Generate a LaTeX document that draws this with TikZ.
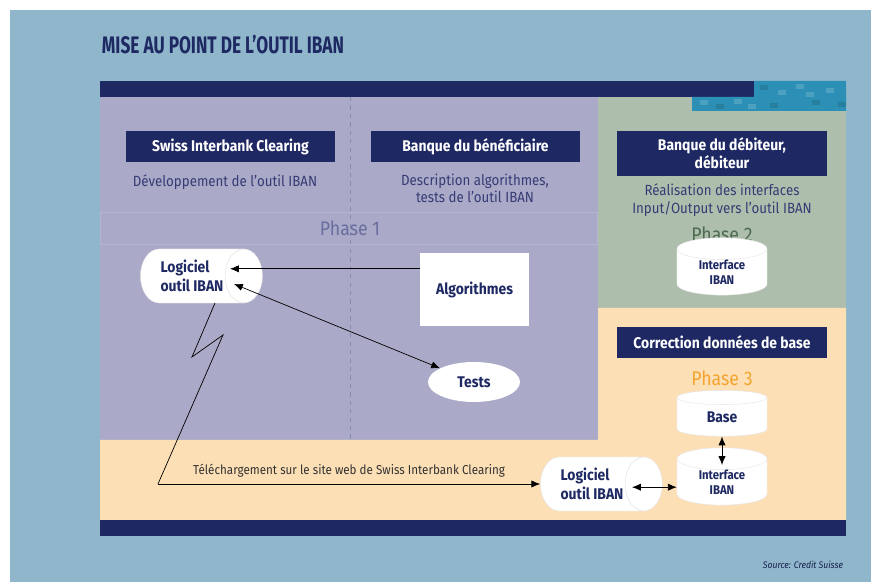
\documentclass[tikz,border=0pt]{standalone}
\usepackage{fontspec}
\setmainfont{Fira Sans}[FakeStretch=0.9]
\newfontfamily\titlefont{Fira Sans}[FakeStretch=0.72]
\usetikzlibrary{arrows.meta,shapes.geometric}
\definecolor{bgblue}{HTML}{8FB6CB}
\definecolor{navy}{HTML}{1E2862}
\definecolor{lavender}{HTML}{AAAAC8}
\definecolor{sage}{HTML}{ADBFAC}
\definecolor{peach}{HTML}{FDDFB6}
\definecolor{inknavy}{HTML}{363B74}
\definecolor{phaseone}{HTML}{6B6D9E}
\definecolor{phasetwo}{HTML}{4D6B4F}
\definecolor{phasethree}{HTML}{F3A430}
\definecolor{pixteal}{HTML}{2C90B6}

\begin{document}
\begin{tikzpicture}[
		x=0.025cm,y=-0.025cm,
		font=\fontsize{10.5}{12.5}\selectfont,
		head/.style={fill=navy,text=white,font=\fontsize{11}{13}\selectfont\bfseries,
			minimum width=5.225cm,minimum height=0.775cm,inner sep=2pt,align=center},
		note/.style={text=inknavy,align=center},
		phase/.style={font=\fontsize{14}{16}\selectfont},
		soft/.style={fill=white,text=navy,font=\fontsize{11}{13}\selectfont\bfseries,align=center},
		roll/.style={soft,cylinder,draw=black!12,line width=0.3pt,inner sep=0pt,
			minimum width=1.35cm,minimum height=3.05cm,aspect=1.2,align=left},
		drum/.style={soft,cylinder,shape border rotate=90,draw=black!10,line width=0.3pt,
			inner sep=0pt,minimum width=2.25cm,minimum height=1.15cm,aspect=0.47,
			font=\fontsize{9}{10.5}\selectfont\bfseries},
		arr/.style={-{Latex[length=2.2mm,width=1.8mm]},line width=0.5pt},
		arrs/.style={{Latex[length=2.2mm,width=1.8mm]}-{Latex[length=2.2mm,width=1.8mm]},line width=0.5pt}]
	
	% ============ Hintergrund und Flaechen ============
	\useasboundingbox (0,0) rectangle (871,582);
	\fill[white] (0,0) rectangle (871,582);
	\fill[bgblue] (10,10) rectangle (871,582);
	\fill[lavender] (100,97) rectangle (598,440);
	\fill[sage] (598,97) rectangle (846,308);
	\fill[peach] (100,440) rectangle (846,520) (598,308) rectangle (846,440);
	\fill[navy] (100,81) rectangle (754,97);
	\fill[navy] (100,520) rectangle (846,536);
	% Pixelstreifen oben rechts
	\fill[pixteal] (754,81) rectangle (846,97) (692,97) rectangle (846,111);
	\foreach \px/\py/\c in {700/100/1,716/104/0,734/99/1,760/85/0,778/90/1,
		796/84/1,812/100/0,826/88/1,748/104/1,838/102/0,770/103/0,806/92/1}{
		\ifnum\c>0 \fill[pixteal!85!white] (\px,\py) rectangle ++(8,5);
		\else \fill[pixteal!88!black] (\px,\py) rectangle ++(8,5); \fi
	}
	
	% Trennlinie und Band der Phase 1
	\draw[dashed,lavender!75!navy,line width=0.5pt] (350,97) -- (350,440);
	\draw[lavender!88!white,line width=0.4pt] (100,212) rectangle (597,244);
	
	\node[font=\titlefont\bfseries\fontsize{17}{19}\selectfont,text=navy,anchor=west]
		(title) at (97,45) {MISE AU POINT DE L’OUTIL IBAN};
	
	% ============ Phase 1 ============
	\node[head] (sic) at (230.5,146.5) {Swiss Interbank Clearing};
	\node[head] (benef) at (475.5,146.5) {Banque du bénéficiaire};
	\node[note] (dev) at (225,182) {Développement de l’outil IBAN};
	\node[note] (descr) at (475,188.5) {Description algorithmes,\\tests de l’outil IBAN};
	\node[phase,text=phaseone] (ph1) at (350,228) {Phase 1};
	
	\node[roll] (log1) at (192,276) {Logiciel\\outil IBAN};
	\node[soft,minimum width=2.725cm,minimum height=1.825cm] (algo) at (474.5,289.5) {Algorithmes};
	\node[soft,ellipse,minimum width=2.3cm,minimum height=1cm] (tests) at (474,382) {Tests};
	
	\coordinate (inA) at ([xshift=0.95cm,yshift=0.18cm]log1.center);
	\coordinate (inB) at ([xshift=1.05cm,yshift=-0.2cm]log1.center);
	\draw[arr] (algo.west |- inA) -- (inA);
	\draw[arrs] (inB) -- (tests.158);
	
	% ============ Phase 2 ============
	\node[head,minimum height=1.125cm] (debit) at (722,153.5) {Banque du débiteur,\\débiteur};
	\node[note] (real) at (722,200) {Réalisation des interfaces\\Input/Output vers l’outil IBAN};
	\node[phase,text=phasetwo] (ph2) at (722,234) {Phase 2};
	\node[drum] (iface2) at (722,272) {Interface\\IBAN};
	
	% ============ Phase 3 ============
	\node[head] (corr) at (722,342.5) {Correction données de base};
	\node[phase,text=phasethree] (ph3) at (722,378) {Phase 3};
	\node[drum,font=\fontsize{11}{13}\selectfont\bfseries] (base) at (722,417) {Base};
	\node[drum] (iface3) at (722,482) {Interface\\IBAN};
	\node[roll] (log2) at (592,484) {Logiciel\\outil IBAN};
	
	% Download: Blitz vom Logiciel oben zum Logiciel unten
	\coordinate (zigO) at ([xshift=0.575cm,yshift=-0.675cm]log1.center);
	\coordinate (zigA) at (192,357);
	\coordinate (zigB) at (223,335);
	\coordinate (zigC) at (158,484);
	\draw[line width=0.5pt] (zigO) -- (zigA) -- (zigB) -- (zigC);
	\draw[arr] (zigC) -- node[above=1pt,text=black!80,font=\fontsize{9.2}{11}\selectfont]
		{Téléchargement sur le site web de Swiss Interbank Clearing} (log2.west);
	
	\coordinate (inC) at ([xshift=1cm,yshift=-0.08cm]log2.center);
	\coordinate (inD) at ([yshift=0.425cm]iface3.center);
	\draw[arrs] (inC) -- (inC -| iface3.west);
	\draw[arrs] (base.south) -- (inD);
	
	\node[anchor=east,text=navy!80!black,font=\fontsize{6.8}{8}\selectfont\itshape] (src) at (848,565)
		{Source: Credit Suisse};
	
\end{tikzpicture}
\end{document}
